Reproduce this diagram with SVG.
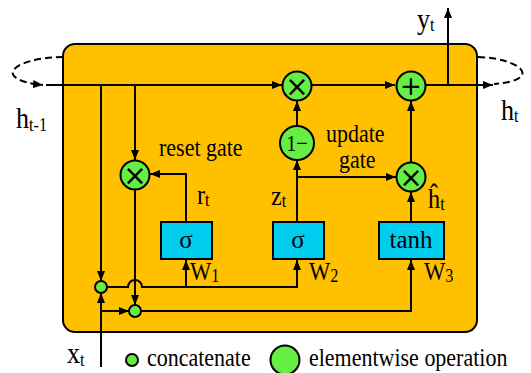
<svg xmlns="http://www.w3.org/2000/svg" width="531" height="373" viewBox="0 0 531 373">
<style>
.ln{fill:none;stroke:#000;stroke-width:2}
.ar{marker-end:url(#ah)}
.dash{fill:none;stroke:#000;stroke-width:2;stroke-dasharray:7,4}
.op{fill:#66EE44;stroke:#000;stroke-width:2}
.box{fill:#00CCEE;stroke:#000;stroke-width:2}
.t{font-family:"Liberation Serif","Times New Roman",serif;font-size:25px;fill:#000}
.big{font-size:29px}
.sub{font-size:18px}
.bt{font-family:"Liberation Serif","Times New Roman",serif;font-size:25px;fill:#000;text-anchor:middle}
.sym{font-family:"DejaVu Sans",sans-serif;fill:#000;text-anchor:middle}
</style>
<defs>
<marker id="ah" markerUnits="userSpaceOnUse" markerWidth="11" markerHeight="9" refX="10" refY="4" orient="auto">
<path d="M0,0 L10,4 L0,8 z" fill="#000"/>
</marker>
</defs>
<rect id="cell" x="63" y="44" width="414" height="288" rx="12" ry="12" fill="#FFC000" stroke="#000" stroke-width="2"/>
<g id="connectors">
<path class="dash ar" d="M63,57 C10,58 -8,80 43,85"/>
<path class="dash" d="M478,57 C520,58 545,80 494,84"/>
<path class="ln ar" d="M46,85 H282"/>
<path class="ln ar" d="M312,85 H395"/>
<path class="ln ar" d="M425,85 H493"/>
<path class="ln ar" d="M448,85 V8"/>
<path class="ln ar" d="M101,85 V281"/>
<path class="ln ar" d="M135,85 V160"/>
<path class="ln ar" d="M135,190 V305"/>
<path class="ln ar" d="M186,222 V174 H150"/>
<path class="ln ar" d="M107,287 H128 A7,7 0 0 1 142,287 H297 V260"/>
<path class="ln ar" d="M186,287 V260"/>
<path class="ln ar" d="M101,367 V293"/>
<path class="ln ar" d="M101,311 H129"/>
<path class="ln ar" d="M141,311 H411 V260"/>
<path class="ln ar" d="M297,222 V160"/>
<path class="ln ar" d="M297,177 H396"/>
<path class="ln ar" d="M297,126 V101"/>
<path class="ln ar" d="M411,222 V192"/>
<path class="ln ar" d="M411,163 V101"/>
</g>
<g id="mul1"><circle class="op" cx="297" cy="86" r="14.5"/><text class="sym" x="297" y="96" font-size="28">×</text></g>
<g id="add"><circle class="op" cx="411" cy="86" r="14.5"/><text class="sym" x="411" y="95" font-size="26">+</text></g>
<g id="one_minus"><circle class="op" cx="297" cy="143" r="17"/><text class="t" transform="translate(297,151) scale(.88,1)" text-anchor="middle" style="font-size:23px">1−</text></g>
<g id="mul_reset"><circle class="op" cx="135" cy="175" r="14.5"/><text class="sym" x="135" y="185" font-size="28">×</text></g>
<g id="mul_update"><circle class="op" cx="411" cy="177" r="14.5"/><text class="sym" x="411" y="187" font-size="28">×</text></g>
<g id="concat1"><circle class="op" cx="101" cy="287" r="6"/></g>
<g id="concat2"><circle class="op" cx="135" cy="311" r="6"/></g>
<g id="sigma1"><rect class="box" x="161" y="222" width="51" height="37"/><text class="bt" x="186" y="248">σ</text></g>
<g id="sigma2"><rect class="box" x="273" y="222" width="51" height="37"/><text class="bt" x="298" y="248">σ</text></g>
<g id="tanh"><rect class="box" x="379" y="222" width="65" height="37"/><text class="bt" x="411" y="248">tanh</text></g>
<g id="labels">
<text class="t big" transform="translate(16,128) scale(.9,1)">h<tspan class="sub" dy="3">t-1</tspan></text>
<text class="t big" transform="translate(501,120) scale(.9,1)">h<tspan class="sub" dy="2">t</tspan></text>
<text class="t big" transform="translate(417,29) scale(.9,1)">y<tspan class="sub" dy="2">t</tspan></text>
<text class="t" transform="translate(159,156) scale(.88,1)">reset gate</text>
<text class="t" transform="translate(326,142) scale(.88,1)">update</text>
<text class="t" transform="translate(339,168) scale(.88,1)">gate</text>
<text class="t" transform="translate(197,204) scale(.9,1)" style="font-size:27px">r<tspan class="sub" dy="2">t</tspan></text>
<text class="t" transform="translate(271,205) scale(.9,1)" style="font-size:27px">z<tspan class="sub" dy="2">t</tspan></text>
<text class="t" transform="translate(428,208) scale(.9,1)" style="font-size:27px">ĥ<tspan class="sub" dy="2">t</tspan></text>
<text class="t" transform="translate(190,280) scale(.9,1)">W<tspan class="sub" dy="2">1</tspan></text>
<text class="t" transform="translate(309,280) scale(.9,1)">W<tspan class="sub" dy="2">2</tspan></text>
<text class="t" transform="translate(424,280) scale(.9,1)">W<tspan class="sub" dy="2">3</tspan></text>
<text class="t big" transform="translate(67,363) scale(.9,1)">x<tspan class="sub" dy="3">t</tspan></text>
</g>
<g id="legend">
<circle class="op" cx="132" cy="360" r="6"/>
<text class="t" transform="translate(147,366) scale(.88,1)">concatenate</text>
<circle class="op" cx="285" cy="360" r="14.5"/>
<text class="t" transform="translate(309,366) scale(.88,1)">elementwise operation</text>
</g>
</svg>
